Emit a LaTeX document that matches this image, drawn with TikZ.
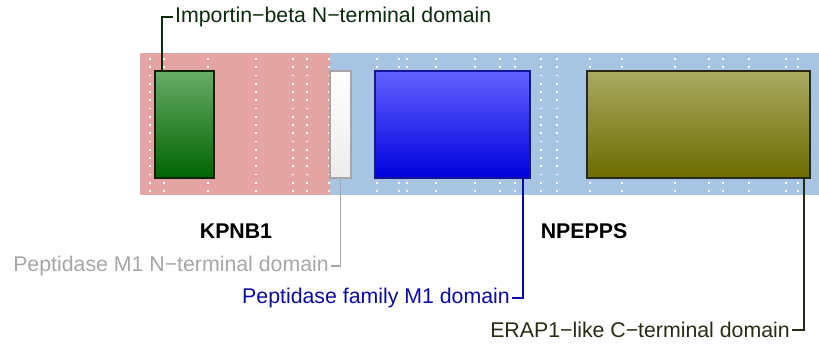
\documentclass[tikz,border=0pt]{standalone}
\usepackage{fontspec}
\setmainfont{Liberation Sans}
\definecolor{pinkbg}{HTML}{E4A4A4}
\definecolor{bluebg}{HTML}{A8C4E3}
\definecolor{gtxt}{HTML}{0B2A0B}
\definecolor{graytxt}{HTML}{A6A6A6}
\definecolor{bluetxt}{HTML}{0A0AA0}
\definecolor{olivetxt}{HTML}{2A2A14}
\begin{document}
\begin{tikzpicture}[x=1pt,y=-1pt,
  dom/.style={draw, line width=1.8pt, minimum height=107pt, inner sep=0pt, anchor=north west, shading=axis},
  lbl/.style={font=\fontsize{21.3}{25}\selectfont, inner sep=2pt},
  gene/.style={font=\fontsize{21.3}{25}\selectfont\bfseries, inner sep=0pt},
  conn/.style={line width=1.7pt},
  dots/.style={white, line width=1.6pt, dash pattern=on 1.6pt off 6.65pt}]
\useasboundingbox (0,0) rectangle (819,350);
% backgrounds
\fill[pinkbg] (140,53) rectangle (330,195);
\fill[bluebg] (330,53) rectangle (819,195);
% dotted grid lines
\foreach \x in {150,164,208,256,293,307,329,377,399,407,436,475,500,515,541,557,590,622,675,709,723,749,786,798}
  \draw[dots] (\x,58.2) -- (\x,195);
% domains
\node[dom, draw=gtxt!80!black, top color={rgb,255:red,104;green,172;blue,104}, bottom color={rgb,255:red,0;green,100;blue,0}, minimum width=59pt] (imp) at (154,70) {};
\node[dom, draw=graytxt, top color=white, bottom color={rgb,255:red,236;green,236;blue,236}, minimum width=21pt] (pepn) at (329,70) {};
\node[dom, draw={rgb,255:red,20;green,20;blue,150}, top color={rgb,255:red,98;green,98;blue,255}, bottom color={rgb,255:red,0;green,0;blue,222}, minimum width=155pt] (pepf) at (374,70) {};
\node[dom, draw=olivetxt, top color={rgb,255:red,170;green,170;blue,98}, bottom color={rgb,255:red,108;green,108;blue,0}, minimum width=223pt] (erap) at (586,70) {};
% gene labels
\node[gene] (kpnb1) at (236,231) {KPNB1};
\node[gene] (npepps) at (584,231) {NPEPPS};
% domain labels
\node[lbl, text=gtxt, anchor=west] (limp) at (173,17) {Importin−beta N−terminal domain};
\node[lbl, text=graytxt, anchor=east] (lpepn) at (331,266) {Peptidase M1 N−terminal domain};
\node[lbl, text=bluetxt, anchor=east] (lpepf) at (512,298) {Peptidase family M1 domain};
\node[lbl, text=olivetxt, anchor=east] (lerap) at (792,330) {ERAP1−like C−terminal domain};
% connectors
\draw[conn, gtxt] ([xshift=8pt]imp.north west) |- (limp.west);
\draw[conn, graytxt] (pepn.south) |- (lpepn.east);
\draw[conn, bluetxt] ([xshift=-8pt]pepf.south east) |- (lpepf.east);
\draw[conn, olivetxt] ([xshift=-7pt]erap.south east) |- (lerap.east);
\end{tikzpicture}
\end{document}
